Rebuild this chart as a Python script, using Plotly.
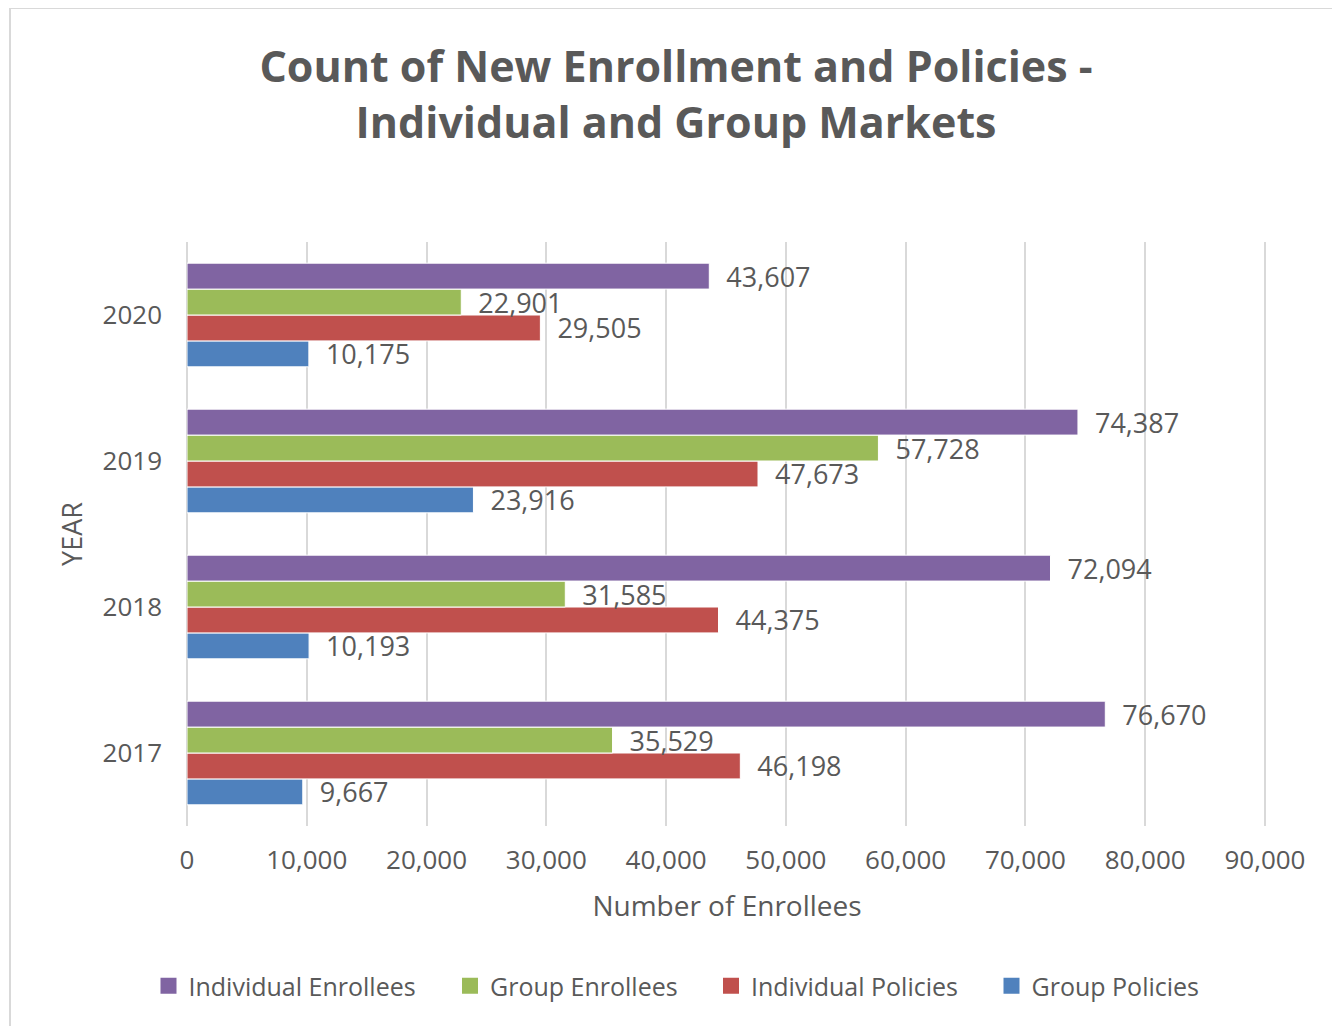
import plotly.graph_objects as go

years = ["2017", "2018", "2019", "2020"]
individual_enrollees = [76670, 72094, 74387, 43607]
group_enrollees = [35529, 31585, 57728, 22901]
individual_policies = [46198, 44375, 47673, 29505]
group_policies = [9667, 10193, 23916, 10175]

x_ticks = [0, 10000, 20000, 30000, 40000, 50000, 60000, 70000, 80000, 90000]
x_tick_labels = ["0", "10,000", "20,000", "30,000", "40,000", "50,000",
                 "60,000", "70,000", "80,000", "90,000"]

TXT = "#595959"
FONT = "Open Sans"

# drawing order bottom->top inside each group
series = [
    ("Group Policies", group_policies, "#4F81BD"),
    ("Individual Policies", individual_policies, "#C0504D"),
    ("Group Enrollees", group_enrollees, "#9BBB59"),
    ("Individual Enrollees", individual_enrollees, "#8064A2"),
]

# page is drawn with an 8px offset; work in screen px and convert
OFF = 8
W, H = 1340 - OFF, 1026 - OFF
L, T = 187 - OFF, 242 - OFF
pw, ph = 1080, 584
R = W - L - pw
B = H - T - ph

def px_x(p):
    return (p - OFF - L) / pw

def px_y(p):
    return (T + ph - (p - OFF)) / ph

fig = go.Figure()
for name, vals, col in series:
    fig.add_trace(go.Bar(
        y=years, x=vals, name=name, orientation="h",
        marker=dict(color=col, line=dict(color="white", width=1)),
        text=[f"{v:,}" for v in vals],
        texttemplate="  %{text}",
        textposition="outside",
        constraintext="none",
        textfont=dict(family=FONT, size=27, color=TXT),
        cliponaxis=False,
        showlegend=False,
    ))

# legend entries (one legend per entry, placed like the reference)
legend_items = [
    ("Individual Enrollees", "#8064A2", 170.5),
    ("Group Enrollees", "#9BBB59", 472),
    ("Individual Policies", "#C0504D", 733),
    ("Group Policies", "#4F81BD", 1013.5),
]
legend_layouts = {}
for i, (name, col, cx) in enumerate(legend_items):
    lg = "legend" if i == 0 else f"legend{i + 1}"
    fig.add_trace(go.Scatter(
        x=[None], y=[None], mode="markers", name=name,
        marker=dict(symbol="square", size=17, color=col),
        showlegend=True, legend=lg,
    ))
    legend_layouts[lg] = dict(
        x=px_x(cx - 22), xanchor="left", y=px_y(986), yanchor="middle",
        font=dict(family=FONT, size=25, color=TXT),
        bgcolor="rgba(0,0,0,0)", itemsizing="trace",
    )

fig.update_layout(
    width=W, height=H,
    margin=dict(l=L, r=R, t=T, b=B),
    paper_bgcolor="white", plot_bgcolor="white",
    barmode="group", bargap=0.29, bargroupgap=0,
    title=dict(
        text="Count of New Enrollment and Policies -<br>Individual and Group Markets",
        x=(676 - OFF) / W, xanchor="center", y=1 - (82 - OFF) / H, yanchor="middle",
        font=dict(family=FONT, size=43, color=TXT, weight="bold"),
    ),
    xaxis=dict(
        range=[0, 90170], tickvals=x_ticks, ticktext=x_tick_labels,
        showgrid=True, gridcolor="#d9d9d9", gridwidth=2,
        zeroline=True, zerolinecolor="#d9d9d9", zerolinewidth=2,
        tickfont=dict(family=FONT, size=26, color=TXT),
        ticklabelstandoff=16,
        title=dict(text="Number of Enrollees",
                   font=dict(family=FONT, size=28, color=TXT), standoff=20),
        fixedrange=True,
    ),
    yaxis=dict(
        type="category", categoryorder="array", categoryarray=years,
        range=[-0.5, 3.5],
        showgrid=False, zeroline=False,
        tickfont=dict(family=FONT, size=26, color=TXT),
        ticklabelstandoff=24,
        title=dict(text="YEAR", font=dict(family=FONT, size=27, color=TXT), standoff=12),
        fixedrange=True,
    ),
    showlegend=True,
    shapes=[dict(
        type="rect", xref="paper", yref="paper",
        x0=px_x(10), x1=px_x(1338), y0=px_y(1040), y1=px_y(8),
        line=dict(color="#d9d9d9", width=2), fillcolor="rgba(0,0,0,0)",
        layer="below",
    )],
    **legend_layouts,
)

fig.write_html("out.html")
